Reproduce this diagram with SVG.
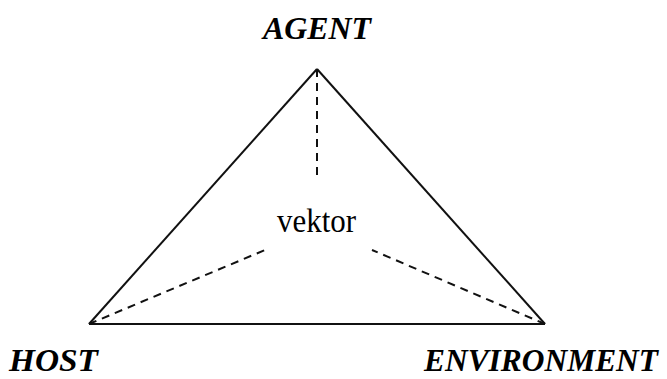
<svg xmlns="http://www.w3.org/2000/svg" width="667" height="379" viewBox="0 0 667 379">
<style>
.lbl{font-family:"Liberation Serif","DejaVu Serif","Times New Roman",serif;font-weight:bold;font-style:italic;font-size:32px;fill:#000}
.v{font-family:"Liberation Serif","DejaVu Serif","Times New Roman",serif;font-size:33px;fill:#000}
.edge{stroke:#111;stroke-width:2;fill:none}
.dash{stroke:#111;stroke-width:2;fill:none;stroke-dasharray:8,6}
</style>
<rect width="667" height="379" fill="#fff"/>
<g id="connectors">
<line class="edge" x1="317" y1="69" x2="89" y2="324"/>
<line class="edge" x1="317" y1="69" x2="545" y2="324"/>
<line class="edge" x1="89" y1="324" x2="545" y2="324" stroke="#444" stroke-width="3"/>
<line class="dash" x1="317" y1="69" x2="317" y2="176"/>
<line class="dash" x1="89" y1="324" x2="265" y2="250"/>
<line class="dash" x1="545" y1="324" x2="372" y2="250"/>
</g>
<g id="agent"><text class="lbl" x="263" y="39" textLength="108" lengthAdjust="spacingAndGlyphs">AGENT</text></g>
<g id="host"><text class="lbl" x="9" y="371" textLength="89" lengthAdjust="spacingAndGlyphs">HOST</text></g>
<g id="environment"><text class="lbl" x="424" y="371" textLength="234" lengthAdjust="spacingAndGlyphs">ENVIRONMENT</text></g>
<g id="vektor"><text class="v" x="277" y="232" textLength="79" lengthAdjust="spacingAndGlyphs">vektor</text></g>
</svg>
